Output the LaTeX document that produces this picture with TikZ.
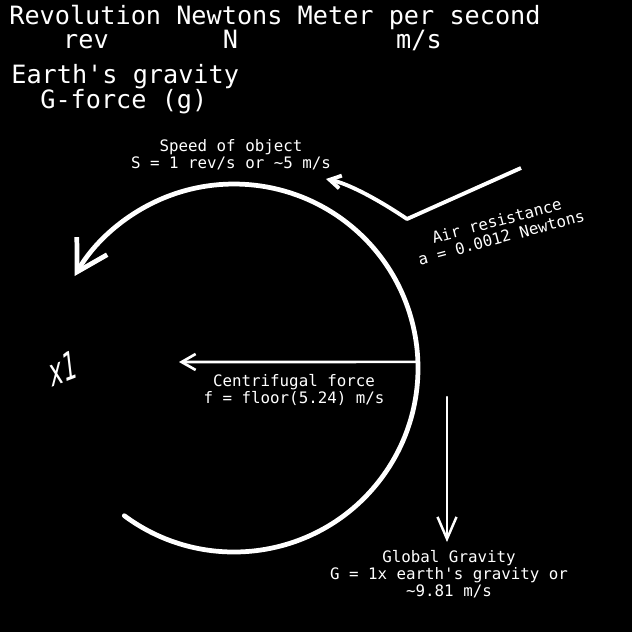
\documentclass[tikz,border=0pt]{standalone}
\usepackage{fontspec}
\setmonofont{DejaVu Sans Mono}
\setsansfont{DejaVu Sans}
\usetikzlibrary{arrows.meta,calc,positioning}

\begin{document}
\begin{tikzpicture}[x=0.02cm,y=-0.02cm,
    every node/.style={text=white,inner sep=0pt},
    big/.style={font=\ttfamily\fontsize{14.35}{17}\selectfont},
    small/.style={font=\ttfamily\fontsize{9}{9.7}\selectfont,align=center},
    bane/.style={draw=white,line width=2.7pt,line cap=round},
    kraft/.style={draw=white,line width=1.5pt,line cap=round}]
    % Baggrund
    \fill[black] (0,0) rectangle (632,632);
    % Enheder
    \node[big,anchor=base west] (enheder) at (9,25) {Revolution Newtons Meter per second};
    \node[big,anchor=base] (rev) at (86,49) {rev};
    \node[big,anchor=base] (newton) at (230.5,49) {N};
    \node[big,anchor=base] (ms) at (419,49) {m/s};
    \node[big,anchor=base west] (jord) at (11,83) {Earth's gravity};
    \node[big,anchor=base west] (gforce) at (40,108) {G-force (g)};
    % Cirkelbanen
    \coordinate (o) at (234,368);
    \coordinate (start) at ($(o)+(126.6:184)$);
    \draw[bane,-{Straight Barb[length=6mm,width=7mm]}]
      (start) arc[start angle=126.6,end angle=-150,radius=184];
    \node[small] (fart) at (231,155) {Speed of object\\S = 1 rev/s or \textasciitilde5 m/s};
    \node[font=\sffamily\fontsize{16}{19}\selectfont,xscale=0.78,yscale=1.4,rotate=12] (antal) at (63,368) {x1};
    % Luftmodstand
    \coordinate (luft1) at (521,168);
    \coordinate (luft2) at (407,219);
    \coordinate (luft3) at (326,179);
    \draw[draw=white,line width=2.2pt,line join=round,-{Straight Barb[length=2.2mm,width=2.6mm]}]
      (luft1) -- (luft2) .. controls (382,202) and (350,184) .. (luft3);
    \node[small,rotate=15] (modstand) at (499,229) {Air resistance\\a = 0.0012 Newtons};
    % Centrifugalkraft
    \coordinate (cf1) at ($(o)+(-1.9:184)$);
    \coordinate (cf2) at (179,362);
    \draw[kraft,-{Straight Barb[length=2.8mm,width=3.2mm]}] (cf1) -- (cf2);
    \node[small] (centrifugal) at (294,390) {Centrifugal force\\f = floor(5.24) m/s};
    % Tyngdekraft
    \coordinate (g1) at (447,397);
    \coordinate (g2) at (447,542);
    \draw[kraft,line width=1.4pt,-{Straight Barb[length=4.4mm,width=3.8mm]}] (g1) -- (g2);
    \node[small] (tyngde) at (449,574) {Global Gravity\\G = 1x earth's gravity or\\\textasciitilde9.81 m/s};
  \end{tikzpicture}
\end{document}
